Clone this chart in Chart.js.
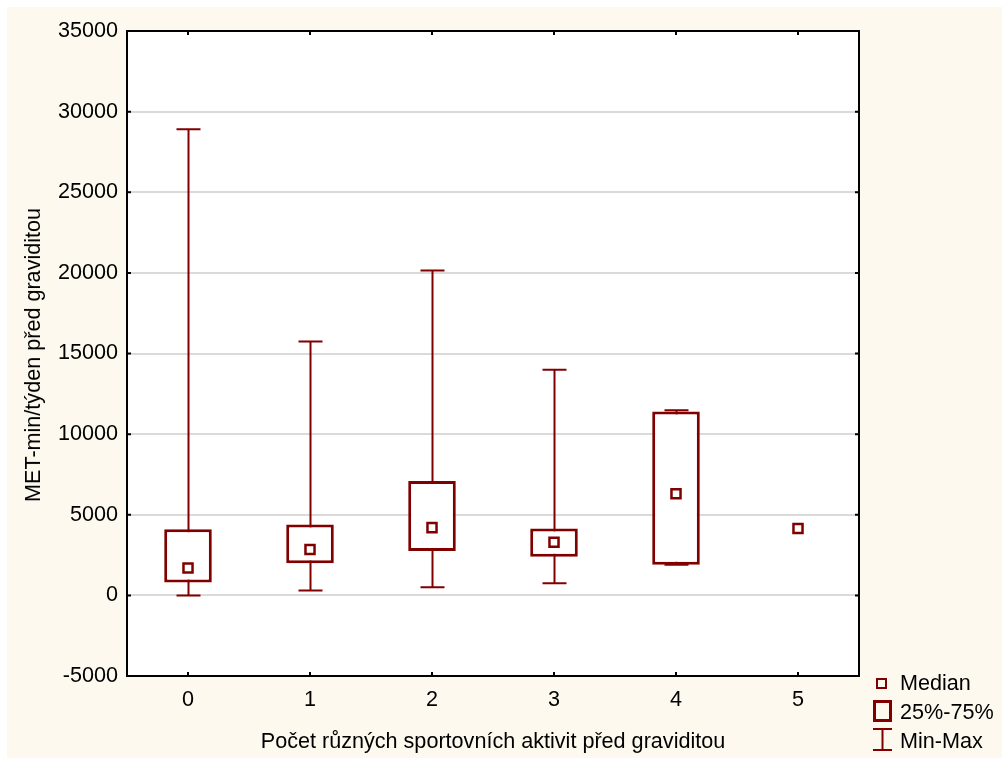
<!DOCTYPE html>
<html>
<head>
	<title>MET-min box plot</title>
	<style>
		body { margin: 0; background: #ffffff; font-family: "Liberation Sans", Arial, sans-serif; }
		#wrap { position: relative; width: 1002px; height: 758px; }
		#paper { position: absolute; left: 7px; top: 7px; right: 0; bottom: 0; background: #fdf9ef; }
		#boxChart { position: relative; }
		.ytitle { position: absolute; left: 33px; top: 355px; transform: translate(-50%, -50%) rotate(-90deg); white-space: nowrap; font-size: 21.6px; color: #000; }
		.xtitle { position: absolute; left: 493px; top: 741px; transform: translate(-50%, -50%); white-space: nowrap; font-size: 21.6px; color: #000; }
		.legend { position: absolute; left: 872px; top: 670px; font-size: 21.6px; color: #000; }
		.legend div { height: 29px; line-height: 26px; position: relative; padding-left: 28px; }
		.ico { position: absolute; box-sizing: border-box; }
	</style>
</head>
<body>
	<div id="wrap">
		<div id="paper"></div>
		<canvas id="boxChart"></canvas>
		<div class="ytitle">MET-min/týden před graviditou</div>
		<div class="xtitle">Počet různých sportovních aktivit před graviditou</div>
		<div class="legend">
			<div><span class="ico" style="left:4px;top:8px;width:11px;height:11px;border:2px solid #800000;"></span>Median</div>
			<div><span class="ico" style="left:1px;top:1px;width:19px;height:22px;border:3px solid #800000;"></span>25%-75%</div>
			<div><span class="ico" style="left:1px;top:0px;width:19px;height:23px;">
				<svg width="19" height="23"><path d="M0 1H19M9.5 1V22M0 22H19" stroke="#800000" stroke-width="2" fill="none"/></svg>
			</span>Min-Max</div>
		</div>
	</div>

	<script src="https://cdn.jsdelivr.net/npm/chart.js@4/dist/chart.umd.min.js"></script>
	<script type="text/javascript">

		// values
		var categories = ['0', '1', '2', '3', '4', '5'];
		var minVals    = [0,     300,   500,   750,   1900,  null];
		var q1Vals     = [800,   2000,  2750,  2400,  1900,  null];
		var medianVals = [1700,  2850,  4200,  3300,  6300,  4150];
		var q3Vals     = [4100,  4400,  7100,  4150,  11400, null];
		var maxVals    = [28900, 15750, 20150, 14000, 11480, null];
		var yTicks     = [-5000, 0, 5000, 10000, 15000, 20000, 25000, 30000, 35000];

		var dark = '#800000';

		function boxData() {
			var arr = [];
			for (var i = 0; i < categories.length; i++) {
				arr.push(q1Vals[i] == null ? null : [q1Vals[i], q3Vals[i]]);
			}
			return arr;
		}

		// white plot area, whiskers, frame and inner tick marks
		var plotDeco = {
			id: 'plotDeco',
			beforeDraw: function (chart) {
				var a = chart.chartArea, ctx = chart.ctx;
				ctx.save();
				ctx.fillStyle = '#ffffff';
				ctx.fillRect(a.left, a.top, a.right - a.left, a.bottom - a.top);
				ctx.restore();
			},
			beforeDatasetsDraw: function (chart) {
				var ctx = chart.ctx, xs = chart.scales.x, ys = chart.scales.y;
				ctx.save();
				ctx.strokeStyle = dark;
				ctx.lineWidth = 2;
				for (var i = 0; i < categories.length; i++) {
					if (minVals[i] == null) continue;
					var x = Math.round(xs.getPixelForValue(i)) + 0.5;
					var y0 = ys.getPixelForValue(minVals[i]);
					var y1 = ys.getPixelForValue(maxVals[i]);
					ctx.beginPath();
					ctx.moveTo(x, y0); ctx.lineTo(x, y1);
					ctx.moveTo(x - 12, y0); ctx.lineTo(x + 12, y0);
					ctx.moveTo(x - 12, y1); ctx.lineTo(x + 12, y1);
					ctx.stroke();
				}
				ctx.restore();
			},
			afterDraw: function (chart) {
				var a = chart.chartArea, ctx = chart.ctx, xs = chart.scales.x, ys = chart.scales.y;
				ctx.save();
				ctx.strokeStyle = '#000';
				ctx.lineWidth = 2;
				ctx.beginPath();
				yTicks.forEach(function (v) {
					var y = ys.getPixelForValue(v);
					ctx.moveTo(a.left, y); ctx.lineTo(a.left + 4, y);
					ctx.moveTo(a.right, y); ctx.lineTo(a.right - 4, y);
				});
				for (var i = 0; i < categories.length; i++) {
					var x = xs.getPixelForValue(i);
					ctx.moveTo(x, a.bottom); ctx.lineTo(x, a.bottom - 4);
					ctx.moveTo(x, a.top); ctx.lineTo(x, a.top + 4);
				}
				ctx.stroke();
				ctx.strokeRect(a.left, a.top, a.right - a.left, a.bottom - a.top);
				ctx.restore();
			}
		};

		window.onload = function () {
			var ctx = document.getElementById('boxChart');
			new Chart(ctx, {
				type: 'bar',
				data: {
					labels: categories,
					datasets: [{
						label: '25%-75%',
						data: boxData(),
						backgroundColor: '#ffffff',
						borderColor: dark,
						borderWidth: 3,
						borderSkipped: false,
						barPercentage: 0.39,
						categoryPercentage: 1,
						order: 2
					}, {
						type: 'line',
						label: 'Median',
						data: medianVals,
						showLine: false,
						pointStyle: 'rect',
						pointRadius: 6.4,
						pointBorderWidth: 2.5,
						pointBorderColor: dark,
						pointBackgroundColor: '#ffffff',
						order: 1
					}]
				},
				options: {
					responsive: true,
					maintainAspectRatio: false,
					animation: false,
					layout: { padding: { top: 31, right: 143, left: 0, bottom: 0 } },
					plugins: { legend: { display: false }, tooltip: { enabled: false } },
					scales: {
						x: {
							grid: { display: false, drawTicks: false },
							border: { display: false },
							ticks: { color: '#000', padding: 11, font: { family: 'Liberation Sans', size: 21.6 } },
							afterFit: function (s) { s.height = 82; }
						},
						y: {
							min: -5000,
							max: 35000,
							grid: { color: '#dadada', lineWidth: 2, drawTicks: false },
							border: { display: false },
							ticks: {
								stepSize: 5000,
								color: '#000',
								padding: 9,
								font: { family: 'Liberation Sans', size: 21.6 },
								callback: function (v) { return String(v); }
							},
							afterFit: function (s) { s.width = 127; }
						}
					}
				},
				plugins: [plotDeco]
			});
		};
	</script>
</body>
</html>
